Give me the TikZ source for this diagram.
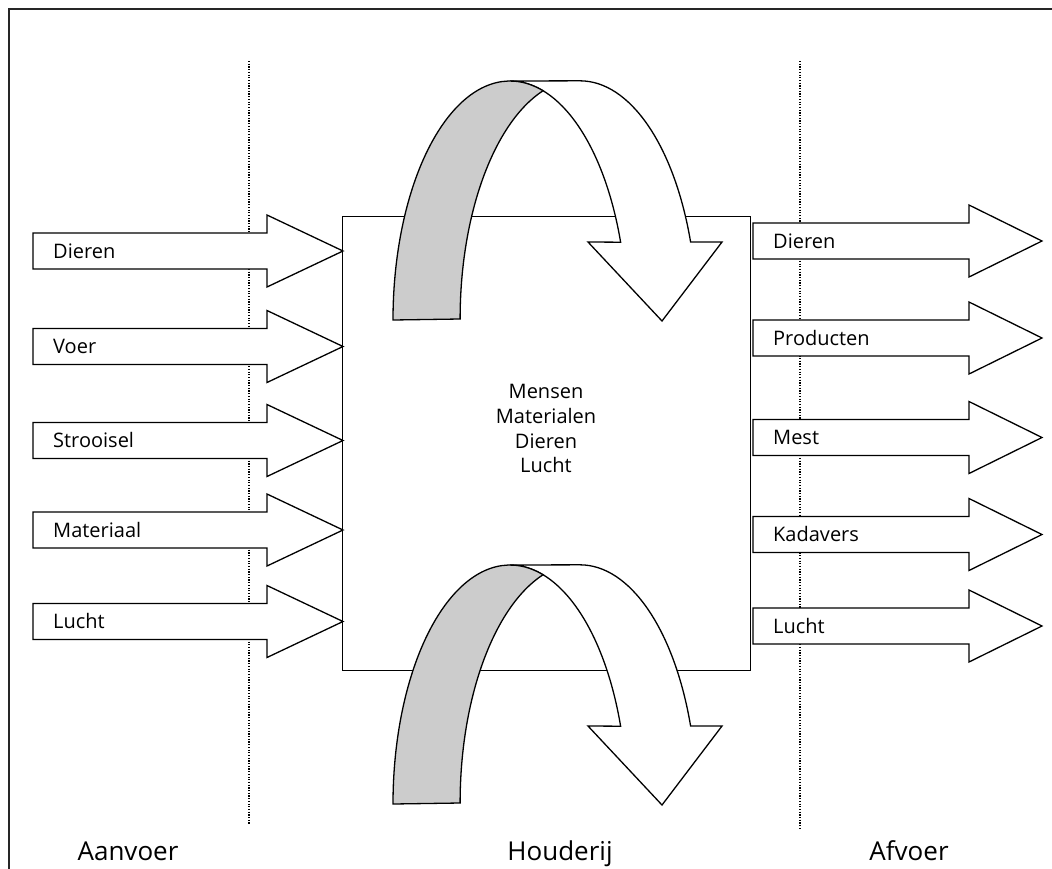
\documentclass[tikz,border=0pt]{standalone}
\usepackage{fontspec}
\setmainfont{Open Sans}
\begin{document}
\begin{tikzpicture}[x=1pt,y=-1pt, line join=miter,
  outline/.style={draw=black, line width=1.3pt},
  flow/.style={outline, fill=white},
  band/.style={outline, fill=black!20},
  guide/.style={line width=1.2pt, dash pattern=on 1.2pt off 1.5pt},
  lbl/.style={font=\fontsize{20}{24}\selectfont, inner sep=0pt, anchor=base west},
  mid/.style={font=\fontsize{20}{24}\selectfont, inner sep=0pt, anchor=base},
  zone/.style={font=\fontsize{26}{30}\selectfont, inner sep=0pt, anchor=base}]
\clip (0,0) rectangle (1052,868);
\fill[white] (0,0) rectangle (1052,868);
% outer frame (runs off the page at right and bottom)
\draw[line width=1.8pt, draw=black!85] (9,9) rectangle (1070,890);

% zone separators
\coordinate (g1t) at (249,61);  \coordinate (g1b) at (249,825);
\coordinate (g2t) at (800,61);  \coordinate (g2b) at (800,828);
\draw[guide] (g1t) -- (g1b);
\draw[guide] (g2t) -- (g2b);

% the stable
\node[outline, fill=white, minimum width=408pt, minimum height=454pt,
      anchor=north west, inner sep=0pt] (box) at (342,216) {};
\node[mid] (m1) at (546,398) {Mensen};
\node[mid] (m2) at (546,423) {Materialen};
\node[mid] (m3) at (546,448) {Dieren};
\node[mid] (m4) at (546,472) {Lucht};

% incoming flows
\foreach \y/\t/\n in {251/Dieren/in1, 346.5/Voer/in2, 440.5/Strooisel/in3,
                      530/Materiaal/in4, 621.5/Lucht/in5}{
  \draw[flow] (33,\y-18) -- (267,\y-18) -- (267,\y-36) -- (343,\y)
              -- (267,\y+36) -- (267,\y+18) -- (33,\y+18) -- cycle;
  \node[lbl] (\n) at (53,\y+7) {\t};
}

% outgoing flows
\foreach \y/\t/\n in {241/Dieren/out1, 338/Producten/out2, 437.5/Mest/out3,
                      534.5/Kadavers/out4, 626/Lucht/out5}{
  \draw[flow] (753,\y-18) -- (969,\y-18) -- (969,\y-36) -- (1042,\y)
              -- (969,\y+36) -- (969,\y+18) -- (753,\y+18) -- cycle;
  \node[lbl] (\n) at (773,\y+7) {\t};
}

% internal circulation loops
\foreach \dy in {0,484}{
  \begin{scope}[shift={(0,\dy)}]
    \draw[flow] (510,81)
      arc[start angle=90, end angle=19, x radius=117pt, y radius=239pt]
      -- (588,242) -- (662,321) -- (722,242) -- (690.6,242)
      arc[start angle=19, end angle=90, x radius=117pt, y radius=239pt]
      -- cycle;
    \draw[band] (393,320)
      arc[start angle=180, end angle=73.6, x radius=117pt, y radius=239pt]
      arc[start angle=108, end angle=180, x radius=120pt, y radius=240pt]
      -- cycle;
  \end{scope}
}

% zone names
\node[zone] (aanvoer)  at (128,860) {Aanvoer};
\node[zone] (houderij) at (560,860) {Houderij};
\node[zone] (afvoer)   at (909,860) {Afvoer};
\end{tikzpicture}
\end{document}
